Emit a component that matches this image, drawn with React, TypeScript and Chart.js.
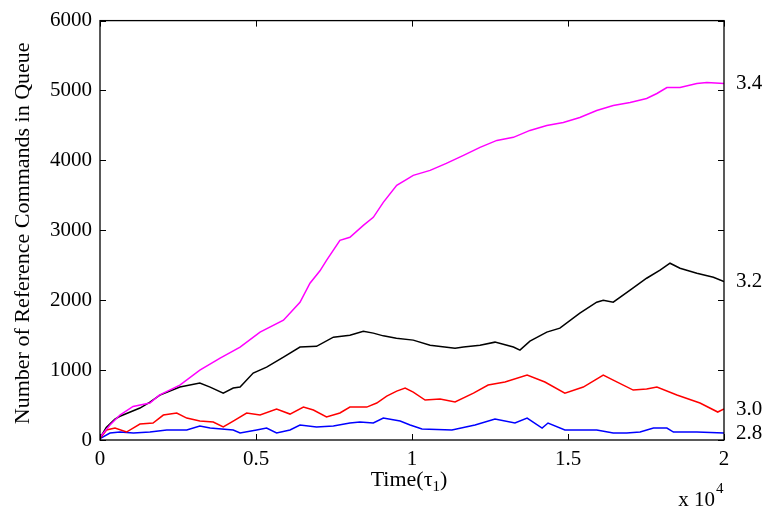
import React, { useEffect, useRef } from "react";
import { Chart, registerables } from "chart.js";

Chart.register(...registerables);

// Time in units of 10^4 tau_1
const magentaT = [0, 0.032, 0.064, 0.106, 0.16, 0.19, 0.256, 0.32, 0.385, 0.449, 0.513, 0.588, 0.641, 0.673, 0.705, 0.726, 0.769, 0.801, 0.844, 0.876, 0.908, 0.951, 0.983, 1.004, 1.058, 1.11, 1.165, 1.218, 1.272, 1.325, 1.378, 1.432, 1.485, 1.538, 1.592, 1.645, 1.699, 1.752, 1.785, 1.817, 1.859, 1.913, 1.945, 2.0];
const magentaV = [40, 214, 357, 480, 530, 643, 786, 1000, 1171, 1330, 1543, 1714, 1971, 2243, 2420, 2571, 2857, 2900, 3071, 3186, 3400, 3643, 3729, 3786, 3857, 3957, 4071, 4186, 4286, 4330, 4429, 4500, 4543, 4614, 4714, 4786, 4829, 4886, 4957, 5043, 5043, 5100, 5114, 5100];

const blackT = [0, 0.02, 0.048, 0.064, 0.128, 0.16, 0.192, 0.256, 0.32, 0.353, 0.395, 0.427, 0.449, 0.491, 0.534, 0.588, 0.641, 0.694, 0.748, 0.801, 0.844, 0.876, 0.908, 0.95, 1.004, 1.058, 1.138, 1.165, 1.218, 1.266, 1.325, 1.346, 1.378, 1.432, 1.474, 1.538, 1.592, 1.613, 1.645, 1.699, 1.752, 1.795, 1.827, 1.859, 1.913, 1.966, 2.0];
const blackV = [30, 180, 300, 340, 457, 543, 643, 757, 814, 757, 671, 743, 757, 957, 1043, 1186, 1330, 1340, 1471, 1500, 1557, 1529, 1490, 1457, 1429, 1357, 1314, 1330, 1357, 1400, 1330, 1286, 1414, 1543, 1600, 1814, 1971, 2000, 1971, 2143, 2314, 2429, 2529, 2457, 2386, 2329, 2265];

const redT = [0, 0.021, 0.048, 0.085, 0.128, 0.17, 0.203, 0.246, 0.278, 0.32, 0.363, 0.395, 0.427, 0.47, 0.513, 0.566, 0.609, 0.652, 0.684, 0.726, 0.769, 0.801, 0.855, 0.887, 0.919, 0.951, 0.978, 1.004, 1.042, 1.09, 1.138, 1.197, 1.244, 1.298, 1.369, 1.426, 1.49, 1.549, 1.613, 1.645, 1.709, 1.752, 1.785, 1.849, 1.923, 1.98, 2.0];
const redV = [20, 143, 171, 114, 229, 243, 357, 386, 314, 271, 257, 186, 271, 386, 357, 443, 371, 471, 429, 329, 386, 471, 471, 529, 629, 700, 743, 686, 571, 586, 543, 671, 786, 829, 929, 829, 671, 757, 929, 857, 714, 729, 757, 643, 529, 400, 443];

const blueT = [0, 0.032, 0.064, 0.107, 0.16, 0.214, 0.278, 0.32, 0.353, 0.427, 0.449, 0.502, 0.534, 0.566, 0.609, 0.641, 0.694, 0.748, 0.801, 0.833, 0.876, 0.908, 0.962, 0.994, 1.032, 1.128, 1.202, 1.266, 1.33, 1.369, 1.417, 1.436, 1.49, 1.538, 1.592, 1.645, 1.688, 1.731, 1.774, 1.817, 1.838, 1.913, 2.0];
const blueV = [20, 100, 114, 100, 114, 143, 143, 200, 171, 143, 100, 143, 171, 100, 143, 214, 186, 200, 243, 257, 243, 314, 271, 214, 157, 143, 214, 300, 243, 314, 171, 243, 143, 143, 143, 100, 100, 114, 171, 171, 114, 114, 100];

const seriesLabels = ["3.4", "3.2", "3.0", "2.8"];
const seriesColors = ["#ff00ff", "#000000", "#ff0000", "#0000ff"];
const xTicks = [0, 0.5, 1, 1.5, 2];
const yTicks = [0, 1000, 2000, 3000, 4000, 5000, 6000];

const FONT = "'Liberation Serif', 'Times New Roman', serif";

function pts(t: number[], v: number[]) {
  return t.map((x, i) => ({ x, y: v[i] }));
}

export default function App() {
  const ref = useRef<HTMLCanvasElement | null>(null);
  useEffect(() => {
    if (!ref.current) return;
    const seriesData = [
      pts(magentaT, magentaV),
      pts(blackT, blackV),
      pts(redT, redV),
      pts(blueT, blueV),
    ];
    const decor = {
      id: "decor",
      afterDraw(chart: any) {
        const { ctx, chartArea, scales } = chart;
        const { left, right, top, bottom } = chartArea;
        const xs = scales.x;
        const ys = scales.y;
        ctx.save();
        ctx.strokeStyle = "#000";
        ctx.lineWidth = 1.3;
        ctx.strokeRect(left, top, right - left, bottom - top);
        ctx.lineWidth = 1;
        const tl = 6;
        ctx.beginPath();
        xTicks.forEach((v) => {
          const px = Math.round(xs.getPixelForValue(v)) + 0.5;
          ctx.moveTo(px, bottom);
          ctx.lineTo(px, bottom - tl);
          ctx.moveTo(px, top);
          ctx.lineTo(px, top + tl);
        });
        yTicks.forEach((v) => {
          const py = Math.round(ys.getPixelForValue(v)) + 0.5;
          ctx.moveTo(left, py);
          ctx.lineTo(left + tl, py);
          ctx.moveTo(right, py);
          ctx.lineTo(right - tl, py);
        });
        ctx.stroke();

        ctx.fillStyle = "#000";
        // right series labels
        ctx.font = `21px ${FONT}`;
        ctx.textAlign = "left";
        ctx.textBaseline = "middle";
        seriesData.forEach((d, i) => {
          const last = d[d.length - 1].y;
          ctx.fillText(seriesLabels[i], right + 12, ys.getPixelForValue(last));
        });

        // y title
        ctx.save();
        ctx.translate(23, (top + bottom) / 2 + 3);
        ctx.rotate(-Math.PI / 2);
        ctx.textAlign = "center";
        ctx.textBaseline = "middle";
        ctx.font = `22px ${FONT}`;
        ctx.fillText("Number of Reference Commands in Queue", 0, 0);
        ctx.restore();

        // x title: Time(τ1)
        ctx.textBaseline = "alphabetic";
        ctx.textAlign = "left";
        const a = "Time(τ";
        const c = ")";
        ctx.font = `15px ${FONT}`;
        const wb = ctx.measureText("1").width;
        ctx.font = `22px ${FONT}`;
        const wa = ctx.measureText(a).width;
        const wc = ctx.measureText(c).width;
        const total = wa + wb + wc;
        const sx = 409 - total / 2;
        const by = 486;
        ctx.fillText(a, sx, by);
        ctx.font = `15px ${FONT}`;
        ctx.fillText("1", sx + wa, by + 5);
        ctx.font = `22px ${FONT}`;
        ctx.fillText(c, sx + wa + wb, by);

        // x 10^4
        ctx.font = `21px ${FONT}`;
        ctx.textAlign = "right";
        ctx.fillText("x 10", right - 9, 506);
        ctx.font = `15px ${FONT}`;
        ctx.textAlign = "left";
        ctx.fillText("4", right - 8, 493);
        ctx.restore();
      },
    };

    const chart = new Chart(ref.current, {
      type: "line",
      data: {
        datasets: seriesData.map((d, i) => ({
          label: seriesLabels[i],
          data: d,
          borderColor: seriesColors[i],
          backgroundColor: seriesColors[i],
          borderWidth: 1.5,
          pointRadius: 0,
          tension: 0,
          fill: false,
        })),
      },
      options: {
        animation: false,
        responsive: false,
        layout: { padding: { left: 0, right: 42, top: 20, bottom: 0 } },
        plugins: { legend: { display: false }, tooltip: { enabled: false } },
        scales: {
          x: {
            type: "linear",
            min: 0,
            max: 2,
            afterFit: (s: any) => {
              s.height = 69;
            },
            afterBuildTicks: (s: any) => {
              s.ticks = xTicks.map((v) => ({ value: v }));
            },
            grid: { display: false, drawTicks: false },
            border: { display: false },
            ticks: {
              padding: 7,
              color: "#000",
              font: { family: FONT, size: 21 },
              maxRotation: 0,
              callback: (v: any) => String(v),
            },
          },
          y: {
            type: "linear",
            min: 0,
            max: 6000,
            afterFit: (s: any) => {
              s.width = 100;
            },
            afterBuildTicks: (s: any) => {
              s.ticks = yTicks.map((v) => ({ value: v }));
            },
            grid: { display: false, drawTicks: false },
            border: { display: false },
            ticks: {
              padding: 8,
              color: "#000",
              font: { family: FONT, size: 21 },
              callback: (v: any) => String(v),
            },
          },
        },
      },
      plugins: [decor],
    });
    return () => chart.destroy();
  }, []);
  return (
    <div style={{ position: "absolute", left: 0, top: 0, width: 766, height: 509, background: "#fff" }}>
      <canvas ref={ref} width={766} height={509} style={{ width: 766, height: 509, display: "block" }} />
    </div>
  );
}
